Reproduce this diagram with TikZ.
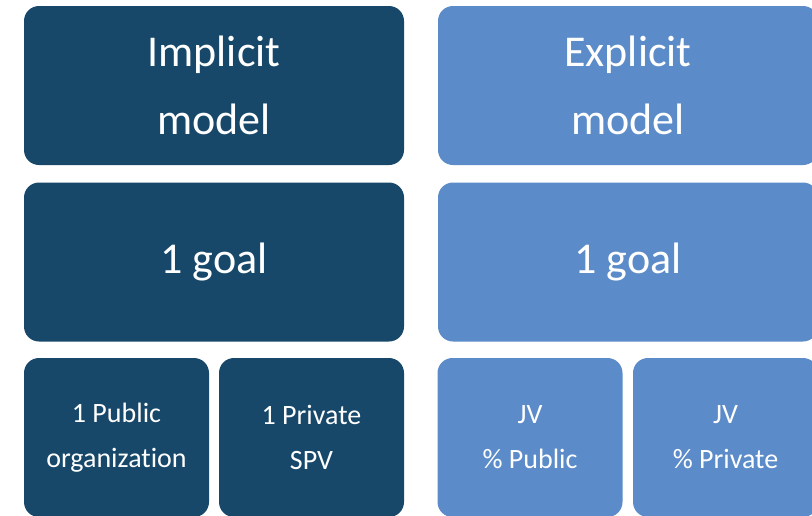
\documentclass[tikz,border=0pt]{standalone}
\usepackage{fontspec}
\setmainfont{Carlito}[Ligatures=NoCommon]
\definecolor{implicitblue}{HTML}{17486A}
\definecolor{explicitblue}{HTML}{5B8BC8}

\begin{document}
\begin{tikzpicture}[x=1pt, y=-1pt,
    box/.style={rounded corners=15pt, inner sep=0pt, text=white, align=center},
    bigtext/.style={font=\fontsize{44}{68}\selectfont},
    smalltext/.style={font=\fontsize{28}{45}\selectfont}]
    % Two model columns: implicit (dark) and explicit (light)
    \def\bw{380}    % column width
    \def\bh{159}    % box height
    \def\sw{185}    % small box width
    \useasboundingbox (0,0) rectangle (812,515);
    \clip (0,0) rectangle (812,515);

    % Implicit model column
    \node[box, bigtext, fill=implicitblue, minimum width=\bw, minimum height=\bh]
      (implicit) at (214, 85.5) {Implicit\\model};
    \node[box, bigtext, fill=implicitblue, minimum width=\bw, minimum height=\bh]
      (implicitgoal) at (214, 262) {1 goal};
    \node[box, smalltext, fill=implicitblue, minimum width=\sw, minimum height=\bh]
      (public) at (116.5, 437.5) {1 Public\\organizat\kern0pt ion};
    \node[box, smalltext, fill=implicitblue, minimum width=\sw, minimum height=\bh]
      (private) at (311.5, 437.5) {1 Private\\SPV};

    % Explicit model column
    \node[box, bigtext, fill=explicitblue, minimum width=\bw, minimum height=\bh]
      (explicit) at (628, 85.5) {Explicit\\model};
    \node[box, bigtext, fill=explicitblue, minimum width=\bw, minimum height=\bh]
      (explicitgoal) at (628, 262) {1 goal};
    \node[box, smalltext, fill=explicitblue, minimum width=\sw, minimum height=\bh]
      (jvpublic) at (530, 437.5) {JV\\\% Public};
    \node[box, smalltext, fill=explicitblue, minimum width=\sw, minimum height=\bh]
      (jvprivate) at (725.5, 437.5) {JV\\\% Private};

\end{tikzpicture}
\end{document}
